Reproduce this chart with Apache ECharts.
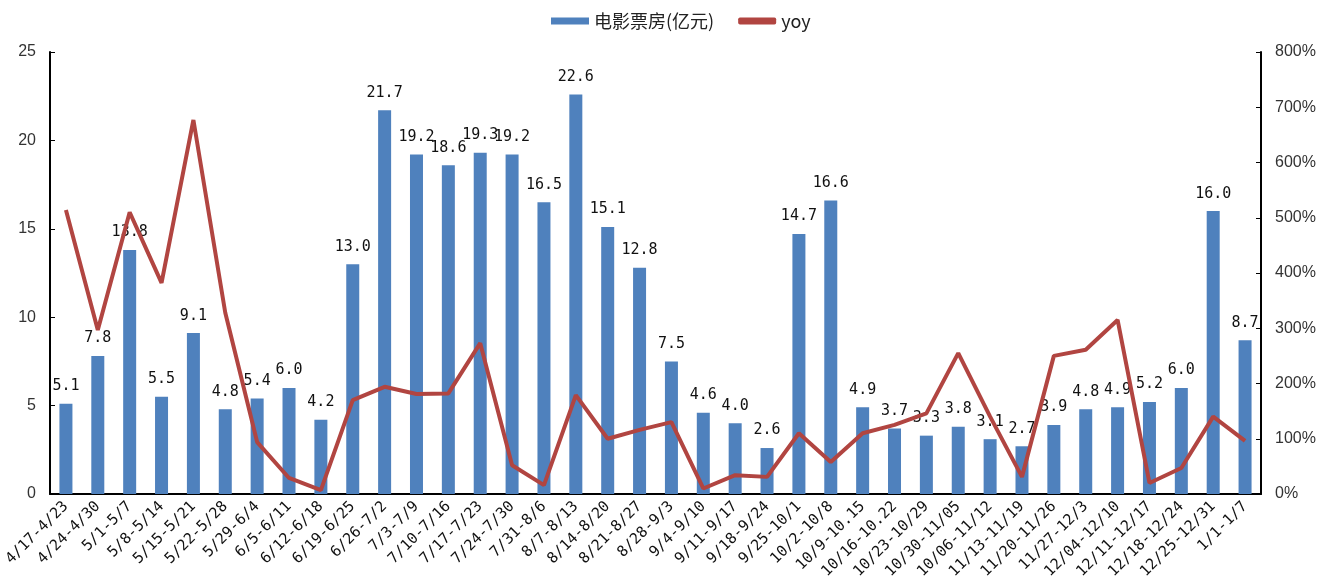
<!DOCTYPE html>
<html>
<head>
<meta charset="utf-8">
<script src="https://cdn.jsdelivr.net/npm/echarts@6/dist/echarts.min.js"></script>
<style>
  html, body { margin: 0; padding: 0; background: #fff; }
  #chart { width: 1322px; height: 578px; }
</style>
</head>
<body>
<div id="chart"></div>
<script>
// 周度区间
const weeks = [
  '4/17-4/23', '4/24-4/30', '5/1-5/7', '5/8-5/14', '5/15-5/21', '5/22-5/28', '5/29-6/4',
  '6/5-6/11', '6/12-6/18', '6/19-6/25', '6/26-7/2', '7/3-7/9', '7/10-7/16', '7/17-7/23',
  '7/24-7/30', '7/31-8/6', '8/7-8/13', '8/14-8/20', '8/21-8/27', '8/28-9/3', '9/4-9/10',
  '9/11-9/17', '9/18-9/24', '9/25-10/1', '10/2-10/8', '10/9-10.15', '10/16-10.22',
  '10/23-10/29', '10/30-11/05', '10/06-11/12', '11/13-11/19', '11/20-11/26', '11/27-12/3',
  '12/04-12/10', '12/11-12/17', '12/18-12/24', '12/25-12/31', '1/1-1/7'
];

// 电影票房(亿元)
const boxOffice = [
  5.1, 7.8, 13.8, 5.5, 9.1, 4.8, 5.4, 6.0, 4.2, 13.0, 21.7, 19.2, 18.6, 19.3, 19.2, 16.5,
  22.6, 15.1, 12.8, 7.5, 4.6, 4.0, 2.6, 14.7, 16.6, 4.9, 3.7, 3.3, 3.8, 3.1, 2.7, 3.9,
  4.8, 4.9, 5.2, 6.0, 16.0, 8.7
];

// yoy (%)
const yoy = [
  514, 297, 510, 382, 677, 328, 94, 29, 7, 170, 194, 181, 182, 273, 52, 16,
  179, 100, 116, 130, 10, 34, 31, 110, 58, 110, 125, 146, 255, 140, 31, 250,
  261, 315, 20, 47, 140, 96
];

const leftTicks = [0, 5, 25];   // min, interval, max
const rightTicks = [0, 100, 800];

const chart = echarts.init(document.getElementById('chart'));

chart.setOption({
  animation: false,
  legend: {
    top: 7,
    left: 546,
    itemGap: 24,
    itemWidth: 38,
    itemHeight: 7,
    textStyle: { fontFamily: 'Noto Sans CJK SC', fontSize: 18, color: '#222' },
    data: [
      { name: '电影票房(亿元)', icon: 'rect' },
      { name: 'yoy', icon: 'roundRect', itemStyle: { color: '#B14541' } }
    ]
  },
  grid: { left: 50, right: 61, top: 52, bottom: 84, outerBoundsMode: 'none' },
  xAxis: {
    type: 'category',
    data: weeks,
    axisLine: { lineStyle: { color: '#000', width: 2 } },
    axisTick: { show: false },
    axisLabel: {
      interval: 0,
      rotate: 45,
      margin: 10,
      fontFamily: 'DejaVu Sans Mono',
      fontSize: 15,
      color: '#111'
    }
  },
  yAxis: [
    {
      type: 'value',
      min: leftTicks[0],
      interval: leftTicks[1],
      max: leftTicks[2],
      splitLine: { show: false },
      axisLine: { show: true, lineStyle: { color: '#000', width: 2 } },
      axisTick: { show: true, inside: true, length: 5, lineStyle: { color: '#000' } },
      axisLabel: { fontFamily: 'Liberation Sans', fontSize: 16, color: '#333', margin: 14 }
    },
    {
      type: 'value',
      min: rightTicks[0],
      interval: rightTicks[1],
      max: rightTicks[2],
      splitLine: { show: false },
      axisLine: { show: true, lineStyle: { color: '#000', width: 2 } },
      axisTick: { show: true, inside: true, length: 5, lineStyle: { color: '#000' } },
      axisLabel: {
        formatter: '{value}%',
        fontFamily: 'Liberation Sans',
        fontSize: 16,
        color: '#333',
        margin: 14
      }
    }
  ],
  series: [
    {
      name: '电影票房(亿元)',
      type: 'bar',
      data: boxOffice,
      barWidth: 13,
      itemStyle: { color: '#4F81BD' },
      label: {
        show: true,
        position: 'top',
        distance: 10,
        formatter: p => p.value.toFixed(1),
        fontFamily: 'DejaVu Sans Mono',
        fontSize: 15,
        color: '#111'
      }
    },
    {
      name: 'yoy',
      type: 'line',
      yAxisIndex: 1,
      data: yoy,
      symbol: 'none',
      z: 5,
      lineStyle: { color: '#B14541', width: 4 },
      itemStyle: { color: '#B14541' }
    }
  ]
});
</script>
</body>
</html>
